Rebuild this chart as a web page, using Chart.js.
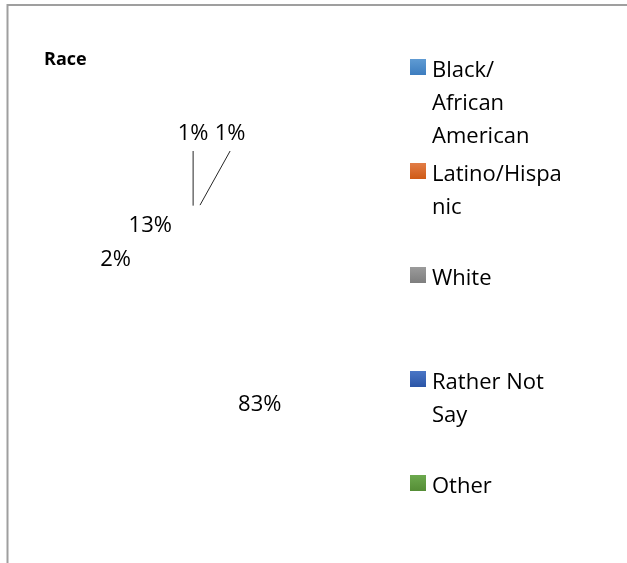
<!DOCTYPE html>
<html>
<head>
<meta charset="utf-8">
<script src="https://cdn.jsdelivr.net/npm/chart.js@4"></script>
<style>
  body { margin: 0; background: #fff; }
  canvas { display: block; }
</style>
</head>
<body>
<canvas id="raceChart" width="627" height="563"></canvas>
<script>
// ===== DATA =====
const chartTitle = 'Race';
const categories = ['Black/ African American', 'Latino/Hispanic', 'White', 'Rather Not Say', 'Other'];
const legendLines = [['Black/', 'African', 'American'], ['Latino/Hispa', 'nic'], ['White'], ['Rather Not', 'Say'], ['Other']];
const shares = [13, 2, 83, 1, 1];

// legend swatch gradients (top, bottom)
const swatchTop = ['#5f9bd3', '#e27d47', '#9b9b9b', '#4a76c6', '#6ca94e'];
const swatchBottom = ['#3d7dbf', '#cf5a15', '#7e7e7e', '#2b55a6', '#558d36'];

const FONT = '"Open Sans", sans-serif';

const frame = {
    id: 'frame',
    beforeDraw(chart) {
        const ctx = chart.ctx;
        ctx.save();
        ctx.strokeStyle = '#9f9f9f';
        ctx.lineWidth = 2;
        ctx.beginPath();
        ctx.moveTo(627, 5);
        ctx.lineTo(7.5, 5);
        ctx.lineTo(7.5, 563);
        ctx.stroke();

        // title
        ctx.fillStyle = '#000';
        ctx.font = 'bold 18px ' + FONT;
        ctx.textBaseline = 'alphabetic';
        ctx.fillText(chartTitle, 44, 65);
        ctx.restore();
    }
};

// slice labels; slices run counter-clockwise, so mirror the arc angles
const sliceLabels = {
    id: 'sliceLabels',
    afterDatasetsDraw(chart) {
        const ctx = chart.ctx;
        const meta = chart.getDatasetMeta(0);
        const total = shares.reduce((a, b) => a + b, 0);
        const small = [];
        ctx.save();
        ctx.font = '22px ' + FONT;
        ctx.fillStyle = '#000';
        ctx.textAlign = 'center';
        ctx.textBaseline = 'middle';
        meta.data.forEach((arc, i) => {
            const p = arc.getProps(['x', 'y', 'startAngle', 'endAngle', 'outerRadius'], true);
            const mid = (p.startAngle + p.endAngle) / 2;
            const dx = -Math.cos(mid), dy = Math.sin(mid);
            const text = Math.round(shares[i] / total * 100) + '%';
            if (shares[i] / total < 0.015) {
                small.push({ text, ex: p.x + dx * p.outerRadius, ey: p.y + dy * p.outerRadius, top: p.y - p.outerRadius });
                return;
            }
            const r = p.outerRadius * 0.955;
            ctx.fillText(text, p.x + dx * r, p.y + dy * r);
        });
        small.sort((a, b) => a.ex - b.ex);
        let lx = null;
        small.forEach(s => {
            lx = lx === null ? s.ex : lx + 37;
            const ly = s.top - 71;
            ctx.strokeStyle = '#262626';
            ctx.lineWidth = 1;
            ctx.beginPath();
            ctx.moveTo(s.ex, s.ey);
            ctx.lineTo(lx, ly + 17);
            ctx.stroke();
            ctx.fillText(s.text, lx, ly);
        });
        ctx.restore();
    }
};

const sideLegend = {
    id: 'sideLegend',
    afterDraw(chart) {
        const ctx = chart.ctx;
        ctx.save();
        ctx.font = '22px ' + FONT;
        ctx.textBaseline = 'alphabetic';
        ctx.fillStyle = '#000';
        legendLines.forEach((lines, i) => {
            const top = 59 + i * 104;
            const g = ctx.createLinearGradient(0, top, 0, top + 16);
            g.addColorStop(0, swatchTop[i]);
            g.addColorStop(1, swatchBottom[i]);
            ctx.fillStyle = g;
            ctx.fillRect(410, top, 16, 16);
            ctx.fillStyle = '#000';
            lines.forEach((line, j) => {
                ctx.fillText(line, 432, top + 18 + j * 33);
            });
        });
        ctx.restore();
    }
};

new Chart(document.getElementById('raceChart'), {
    type: 'pie',
    data: {
        labels: categories,
        datasets: [{
            data: shares,
            backgroundColor: 'rgba(0,0,0,0)',
            borderWidth: 0,
            hoverOffset: 0
        }]
    },
    options: {
        responsive: false,
        animation: false,
        devicePixelRatio: 1,
        rotation: 8,
        layout: {
            padding: { left: 95, top: 205, right: 312, bottom: 138 }
        },
        plugins: {
            legend: { display: false },
            title: { display: false },
            tooltip: { enabled: false }
        }
    },
    plugins: [frame, sliceLabels, sideLegend]
});
</script>
</body>
</html>
